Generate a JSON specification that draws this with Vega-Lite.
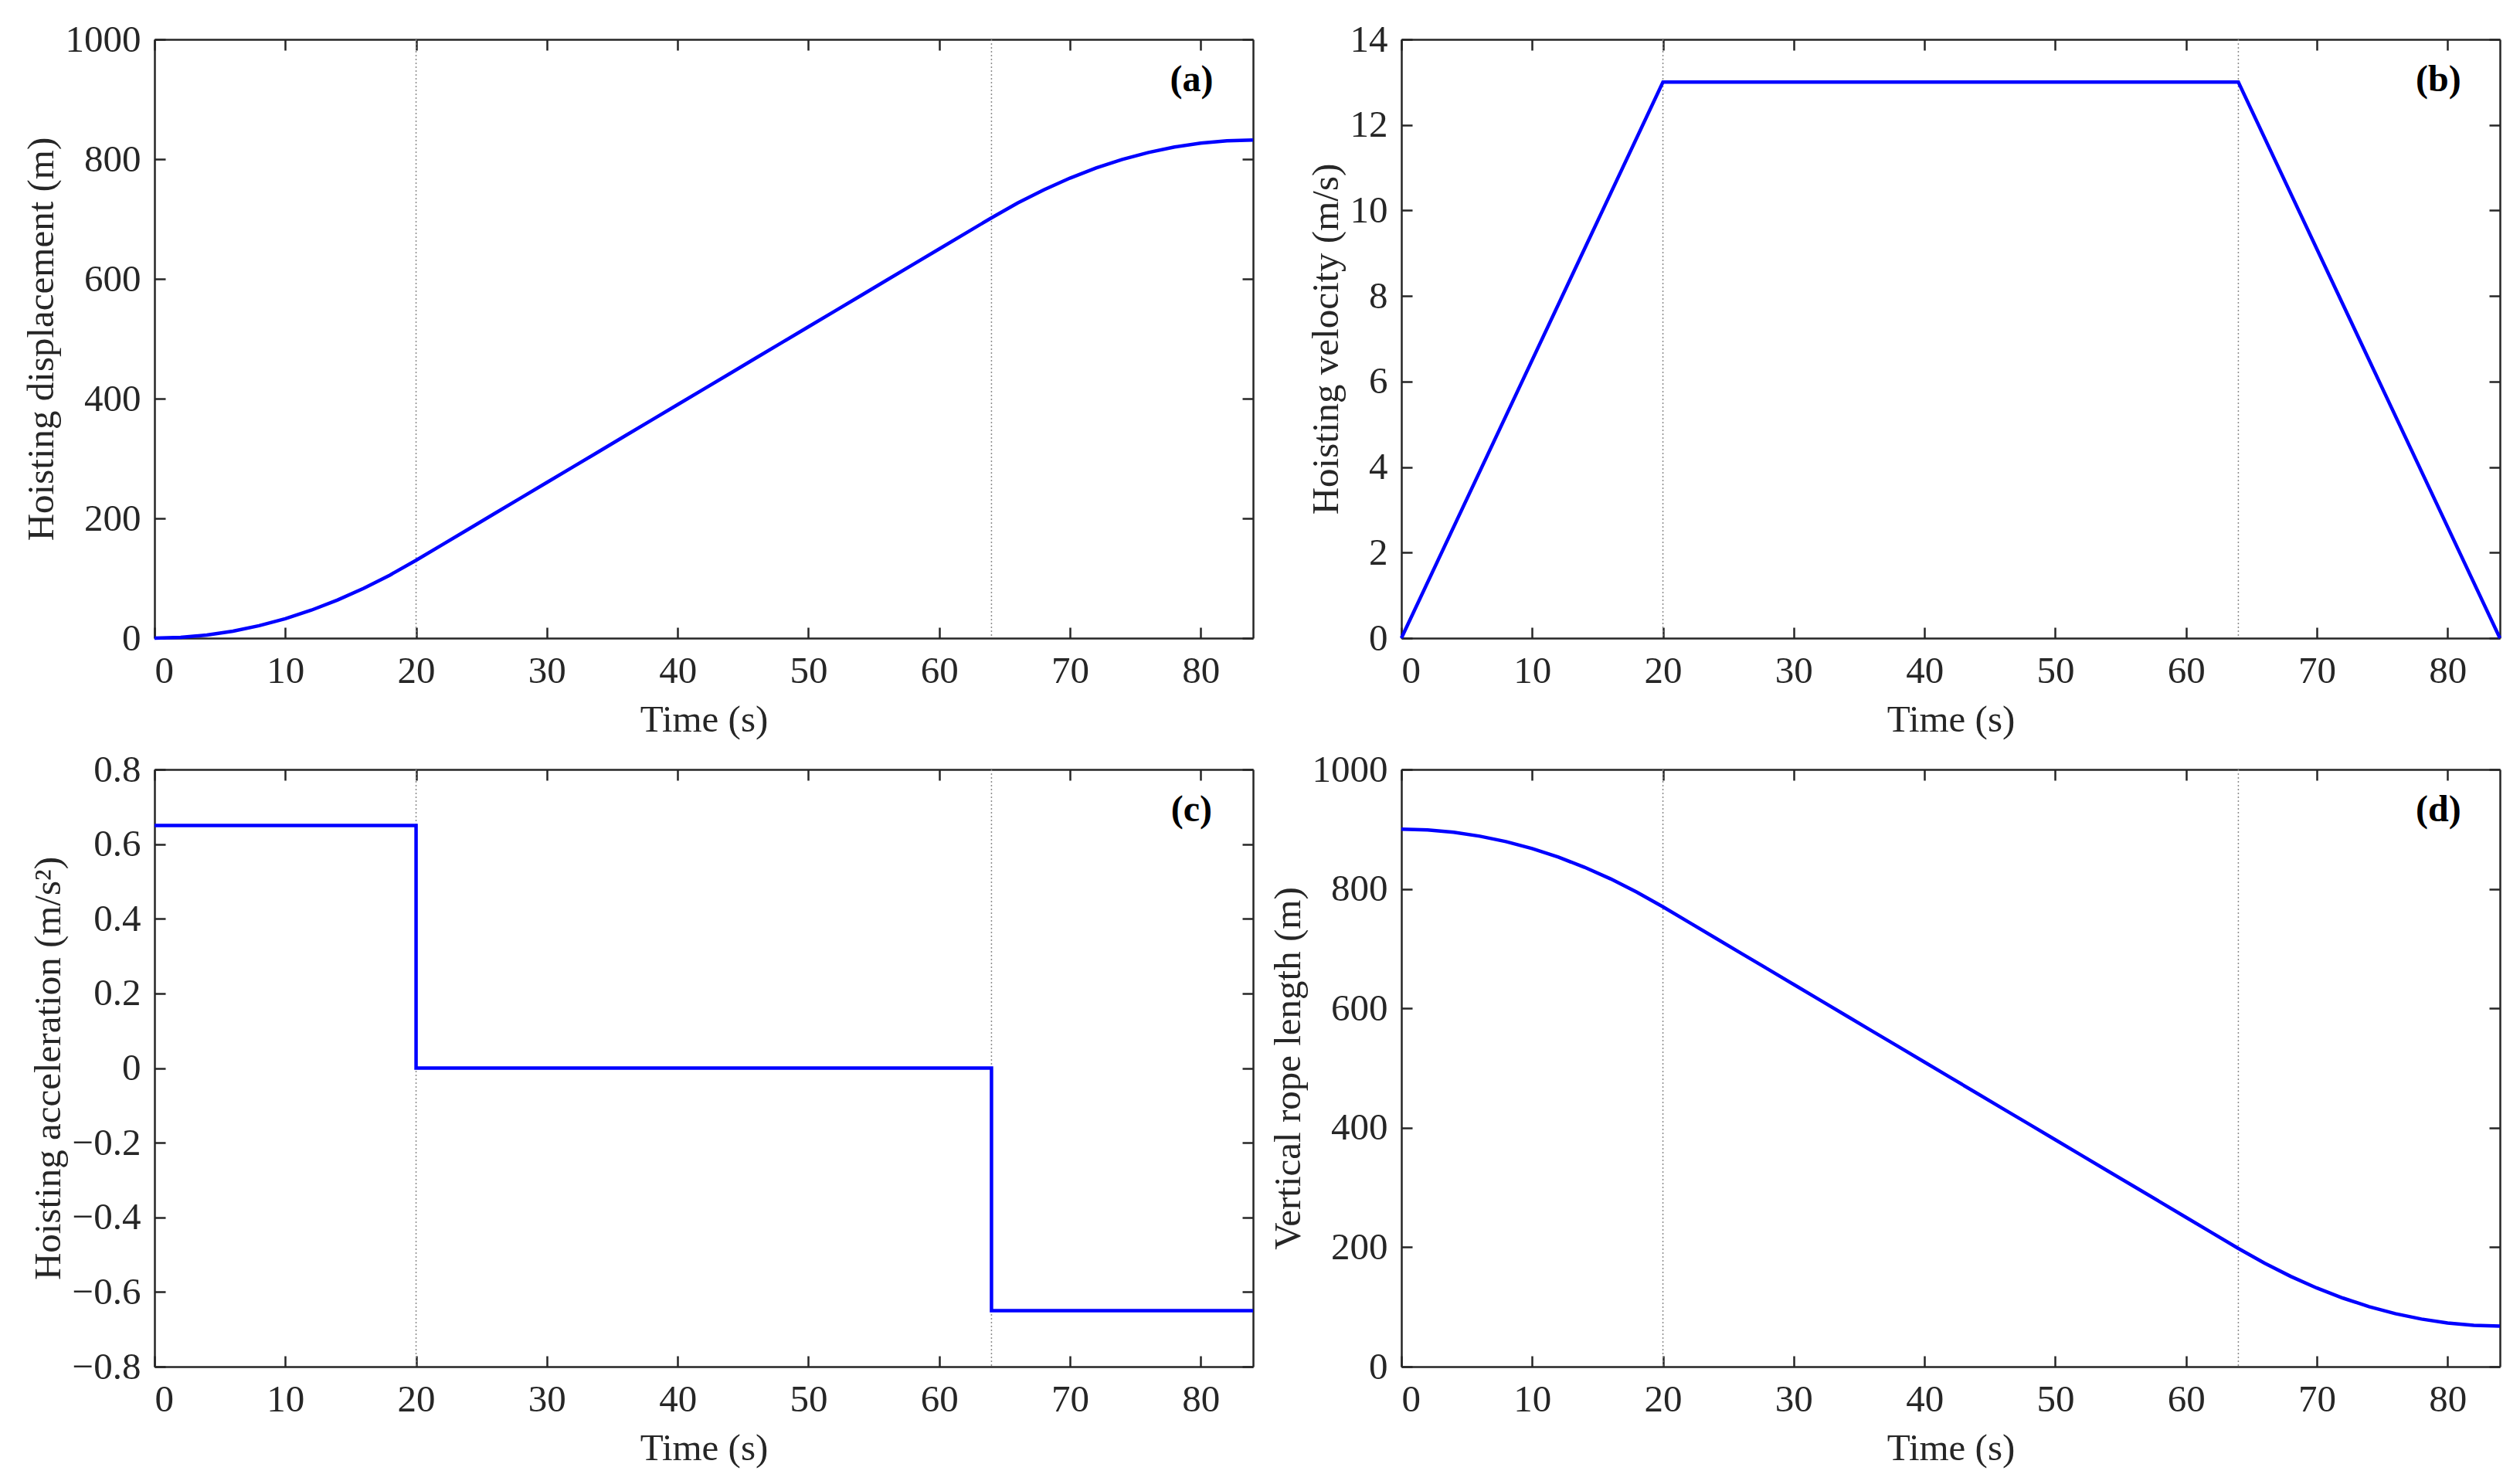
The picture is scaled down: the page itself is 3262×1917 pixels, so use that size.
{
  "$schema": "https://vega.github.io/schema/vega-lite/v6.json",
  "padding": {"left": 29, "top": 27, "right": 5, "bottom": 5},
  "background": "white",
  "config": {
    "font": "Liberation Serif",
    "view": {"stroke": null},
    "axis": {
      "grid": false,
      "domainColor": "#262626",
      "domainWidth": 2.5,
      "tickColor": "#262626",
      "tickWidth": 2.5,
      "tickSize": -14,
      "labelFont": "Liberation Serif",
      "labelFontSize": 49,
      "labelColor": "#262626",
      "labelPadding": 32,
      "titleFont": "Liberation Serif",
      "titleFontSize": 49,
      "titleFontWeight": "normal",
      "titleColor": "#262626",
      "titlePadding": 6
    },
    "axisX": {"titlePadding": 14},
    "text": {"font": "Liberation Serif"}
  },
  "datasets": {
    "marks": [{"t": 20}, {"t": 64}],
    "motion": [
      {"t": 0, "disp": 0, "rope": 900},
      {"t": 2, "disp": 1.3, "rope": 898.7},
      {"t": 4, "disp": 5.2, "rope": 894.8},
      {"t": 6, "disp": 11.7, "rope": 888.3},
      {"t": 8, "disp": 20.8, "rope": 879.2},
      {"t": 10, "disp": 32.5, "rope": 867.5},
      {"t": 12, "disp": 46.8, "rope": 853.2},
      {"t": 14, "disp": 63.7, "rope": 836.3},
      {"t": 16, "disp": 83.2, "rope": 816.8},
      {"t": 18, "disp": 105.3, "rope": 794.7},
      {"t": 20, "disp": 130, "rope": 770},
      {"t": 22, "disp": 156, "rope": 744},
      {"t": 24, "disp": 182, "rope": 718},
      {"t": 26, "disp": 208, "rope": 692},
      {"t": 28, "disp": 234, "rope": 666},
      {"t": 30, "disp": 260, "rope": 640},
      {"t": 32, "disp": 286, "rope": 614},
      {"t": 34, "disp": 312, "rope": 588},
      {"t": 36, "disp": 338, "rope": 562},
      {"t": 38, "disp": 364, "rope": 536},
      {"t": 40, "disp": 390, "rope": 510},
      {"t": 42, "disp": 416, "rope": 484},
      {"t": 44, "disp": 442, "rope": 458},
      {"t": 46, "disp": 468, "rope": 432},
      {"t": 48, "disp": 494, "rope": 406},
      {"t": 50, "disp": 520, "rope": 380},
      {"t": 52, "disp": 546, "rope": 354},
      {"t": 54, "disp": 572, "rope": 328},
      {"t": 56, "disp": 598, "rope": 302},
      {"t": 58, "disp": 624, "rope": 276},
      {"t": 60, "disp": 650, "rope": 250},
      {"t": 62, "disp": 676, "rope": 224},
      {"t": 64, "disp": 702, "rope": 198},
      {"t": 66, "disp": 726.7, "rope": 173.3},
      {"t": 68, "disp": 748.8, "rope": 151.2},
      {"t": 70, "disp": 768.3, "rope": 131.7},
      {"t": 72, "disp": 785.2, "rope": 114.8},
      {"t": 74, "disp": 799.5, "rope": 100.5},
      {"t": 76, "disp": 811.2, "rope": 88.8},
      {"t": 78, "disp": 820.3, "rope": 79.7},
      {"t": 80, "disp": 826.8, "rope": 73.2},
      {"t": 82, "disp": 830.7, "rope": 69.3},
      {"t": 84, "disp": 832, "rope": 68}
    ],
    "vel": [
      {"t": 0, "v": 0},
      {"t": 20, "v": 13},
      {"t": 64, "v": 13},
      {"t": 84, "v": 0}
    ],
    "acc": [
      {"t": 0, "a": 0.65},
      {"t": 20, "a": 0.65},
      {"t": 20, "a": 0},
      {"t": 64, "a": 0},
      {"t": 64, "a": -0.65},
      {"t": 84, "a": -0.65}
    ]
  },
  "columns": 2,
  "spacing": {"column": 12, "row": 16},
  "concat": [
    {
      "width": 1422,
      "height": 775,
      "layer": [
        {
          "data": {"name": "marks"},
          "mark": {"type": "rule", "color": "#8c8c8c", "strokeWidth": 1.5, "strokeDash": [2, 3]},
          "encoding": {"x": {"field": "t", "type": "quantitative", "axis": null, "scale": {"domain": [0, 84], "nice": false}}}
        },
        {
          "data": {"name": "motion"},
          "mark": {"type": "line", "color": "#0000ff", "strokeWidth": 4.5},
          "encoding": {
            "x": {"field": "t", "type": "quantitative", "scale": {"domain": [0, 84], "nice": false}, "axis": {"orient": "bottom", "values": [0, 10, 20, 30, 40, 50, 60, 70, 80], "title": "Time (s)"}},
            "y": {"field": "disp", "type": "quantitative", "scale": {"domain": [0, 1000], "nice": false}, "axis": {"orient": "left", "values": [0, 200, 400, 600, 800, 1000], "format": "d", "title": "Hoisting displacement (m)"}}
          }
        },
        {
          "data": {"name": "motion"},
          "mark": {"type": "line", "opacity": 0},
          "encoding": {
            "x": {"field": "t", "type": "quantitative", "scale": {"domain": [0, 84], "nice": false}, "axis": {"orient": "top", "values": [0, 10, 20, 30, 40, 50, 60, 70, 80], "labels": false, "title": null}},
            "y": {"field": "disp", "type": "quantitative", "scale": {"domain": [0, 1000], "nice": false}, "axis": {"orient": "right", "values": [0, 200, 400, 600, 800, 1000], "labels": false, "title": null}}
          }
        },
        {
          "data": {"values": [{"t": 79.3, "y": 932, "lab": "(a)"}]},
          "mark": {"type": "text", "fontSize": 48, "fontWeight": "bold", "color": "#000000"},
          "encoding": {
            "x": {"field": "t", "type": "quantitative", "axis": null, "scale": {"domain": [0, 84], "nice": false}},
            "y": {"field": "y", "type": "quantitative", "axis": null, "scale": {"domain": [0, 1000], "nice": false}},
            "text": {"field": "lab"}
          }
        }
      ],
      "resolve": {"axis": {"x": "independent", "y": "independent"}}
    },
    {
      "width": 1422,
      "height": 775,
      "layer": [
        {
          "data": {"name": "marks"},
          "mark": {"type": "rule", "color": "#8c8c8c", "strokeWidth": 1.5, "strokeDash": [2, 3]},
          "encoding": {"x": {"field": "t", "type": "quantitative", "axis": null, "scale": {"domain": [0, 84], "nice": false}}}
        },
        {
          "data": {"name": "vel"},
          "mark": {"type": "line", "color": "#0000ff", "strokeWidth": 4.5},
          "encoding": {
            "x": {"field": "t", "type": "quantitative", "scale": {"domain": [0, 84], "nice": false}, "axis": {"orient": "bottom", "values": [0, 10, 20, 30, 40, 50, 60, 70, 80], "title": "Time (s)"}},
            "y": {"field": "v", "type": "quantitative", "scale": {"domain": [0, 14], "nice": false}, "axis": {"orient": "left", "values": [0, 2, 4, 6, 8, 10, 12, 14], "title": "Hoisting velocity (m/s)"}}
          }
        },
        {
          "data": {"name": "vel"},
          "mark": {"type": "line", "opacity": 0},
          "encoding": {
            "x": {"field": "t", "type": "quantitative", "scale": {"domain": [0, 84], "nice": false}, "axis": {"orient": "top", "values": [0, 10, 20, 30, 40, 50, 60, 70, 80], "labels": false, "title": null}},
            "y": {"field": "v", "type": "quantitative", "scale": {"domain": [0, 14], "nice": false}, "axis": {"orient": "right", "values": [0, 2, 4, 6, 8, 10, 12, 14], "labels": false, "title": null}}
          }
        },
        {
          "data": {"values": [{"t": 79.3, "y": 13.04, "lab": "(b)"}]},
          "mark": {"type": "text", "fontSize": 48, "fontWeight": "bold", "color": "#000000"},
          "encoding": {
            "x": {"field": "t", "type": "quantitative", "axis": null, "scale": {"domain": [0, 84], "nice": false}},
            "y": {"field": "y", "type": "quantitative", "axis": null, "scale": {"domain": [0, 14], "nice": false}},
            "text": {"field": "lab"}
          }
        }
      ],
      "resolve": {"axis": {"x": "independent", "y": "independent"}}
    },
    {
      "width": 1422,
      "height": 773,
      "layer": [
        {
          "data": {"name": "marks"},
          "mark": {"type": "rule", "color": "#8c8c8c", "strokeWidth": 1.5, "strokeDash": [2, 3]},
          "encoding": {"x": {"field": "t", "type": "quantitative", "axis": null, "scale": {"domain": [0, 84], "nice": false}}}
        },
        {
          "data": {"name": "acc"},
          "mark": {"type": "line", "color": "#0000ff", "strokeWidth": 4.5},
          "encoding": {
            "x": {"field": "t", "type": "quantitative", "scale": {"domain": [0, 84], "nice": false}, "axis": {"orient": "bottom", "values": [0, 10, 20, 30, 40, 50, 60, 70, 80], "title": "Time (s)"}},
            "y": {"field": "a", "type": "quantitative", "scale": {"domain": [-0.8, 0.8], "nice": false, "zero": false}, "axis": {"orient": "left", "values": [-0.8, -0.6, -0.4, -0.2, 0, 0.2, 0.4, 0.6, 0.8], "format": ".1~f", "title": "Hoisting acceleration (m/s²)"}}
          }
        },
        {
          "data": {"name": "acc"},
          "mark": {"type": "line", "opacity": 0},
          "encoding": {
            "x": {"field": "t", "type": "quantitative", "scale": {"domain": [0, 84], "nice": false}, "axis": {"orient": "top", "values": [0, 10, 20, 30, 40, 50, 60, 70, 80], "labels": false, "title": null}},
            "y": {"field": "a", "type": "quantitative", "scale": {"domain": [-0.8, 0.8], "nice": false, "zero": false}, "axis": {"orient": "right", "values": [-0.8, -0.6, -0.4, -0.2, 0, 0.2, 0.4, 0.6, 0.8], "labels": false, "title": null}}
          }
        },
        {
          "data": {"values": [{"t": 79.3, "y": 0.69, "lab": "(c)"}]},
          "mark": {"type": "text", "fontSize": 48, "fontWeight": "bold", "color": "#000000"},
          "encoding": {
            "x": {"field": "t", "type": "quantitative", "axis": null, "scale": {"domain": [0, 84], "nice": false}},
            "y": {"field": "y", "type": "quantitative", "axis": null, "scale": {"domain": [-0.8, 0.8], "nice": false, "zero": false}},
            "text": {"field": "lab"}
          }
        }
      ],
      "resolve": {"axis": {"x": "independent", "y": "independent"}}
    },
    {
      "width": 1422,
      "height": 773,
      "layer": [
        {
          "data": {"name": "marks"},
          "mark": {"type": "rule", "color": "#8c8c8c", "strokeWidth": 1.5, "strokeDash": [2, 3]},
          "encoding": {"x": {"field": "t", "type": "quantitative", "axis": null, "scale": {"domain": [0, 84], "nice": false}}}
        },
        {
          "data": {"name": "motion"},
          "mark": {"type": "line", "color": "#0000ff", "strokeWidth": 4.5},
          "encoding": {
            "x": {"field": "t", "type": "quantitative", "scale": {"domain": [0, 84], "nice": false}, "axis": {"orient": "bottom", "values": [0, 10, 20, 30, 40, 50, 60, 70, 80], "title": "Time (s)"}},
            "y": {"field": "rope", "type": "quantitative", "scale": {"domain": [0, 1000], "nice": false}, "axis": {"orient": "left", "values": [0, 200, 400, 600, 800, 1000], "format": "d", "title": "Vertical rope length (m)"}}
          }
        },
        {
          "data": {"name": "motion"},
          "mark": {"type": "line", "opacity": 0},
          "encoding": {
            "x": {"field": "t", "type": "quantitative", "scale": {"domain": [0, 84], "nice": false}, "axis": {"orient": "top", "values": [0, 10, 20, 30, 40, 50, 60, 70, 80], "labels": false, "title": null}},
            "y": {"field": "rope", "type": "quantitative", "scale": {"domain": [0, 1000], "nice": false}, "axis": {"orient": "right", "values": [0, 200, 400, 600, 800, 1000], "labels": false, "title": null}}
          }
        },
        {
          "data": {"values": [{"t": 79.3, "y": 932, "lab": "(d)"}]},
          "mark": {"type": "text", "fontSize": 48, "fontWeight": "bold", "color": "#000000"},
          "encoding": {
            "x": {"field": "t", "type": "quantitative", "axis": null, "scale": {"domain": [0, 84], "nice": false}},
            "y": {"field": "y", "type": "quantitative", "axis": null, "scale": {"domain": [0, 1000], "nice": false}},
            "text": {"field": "lab"}
          }
        }
      ],
      "resolve": {"axis": {"x": "independent", "y": "independent"}}
    }
  ]
}
